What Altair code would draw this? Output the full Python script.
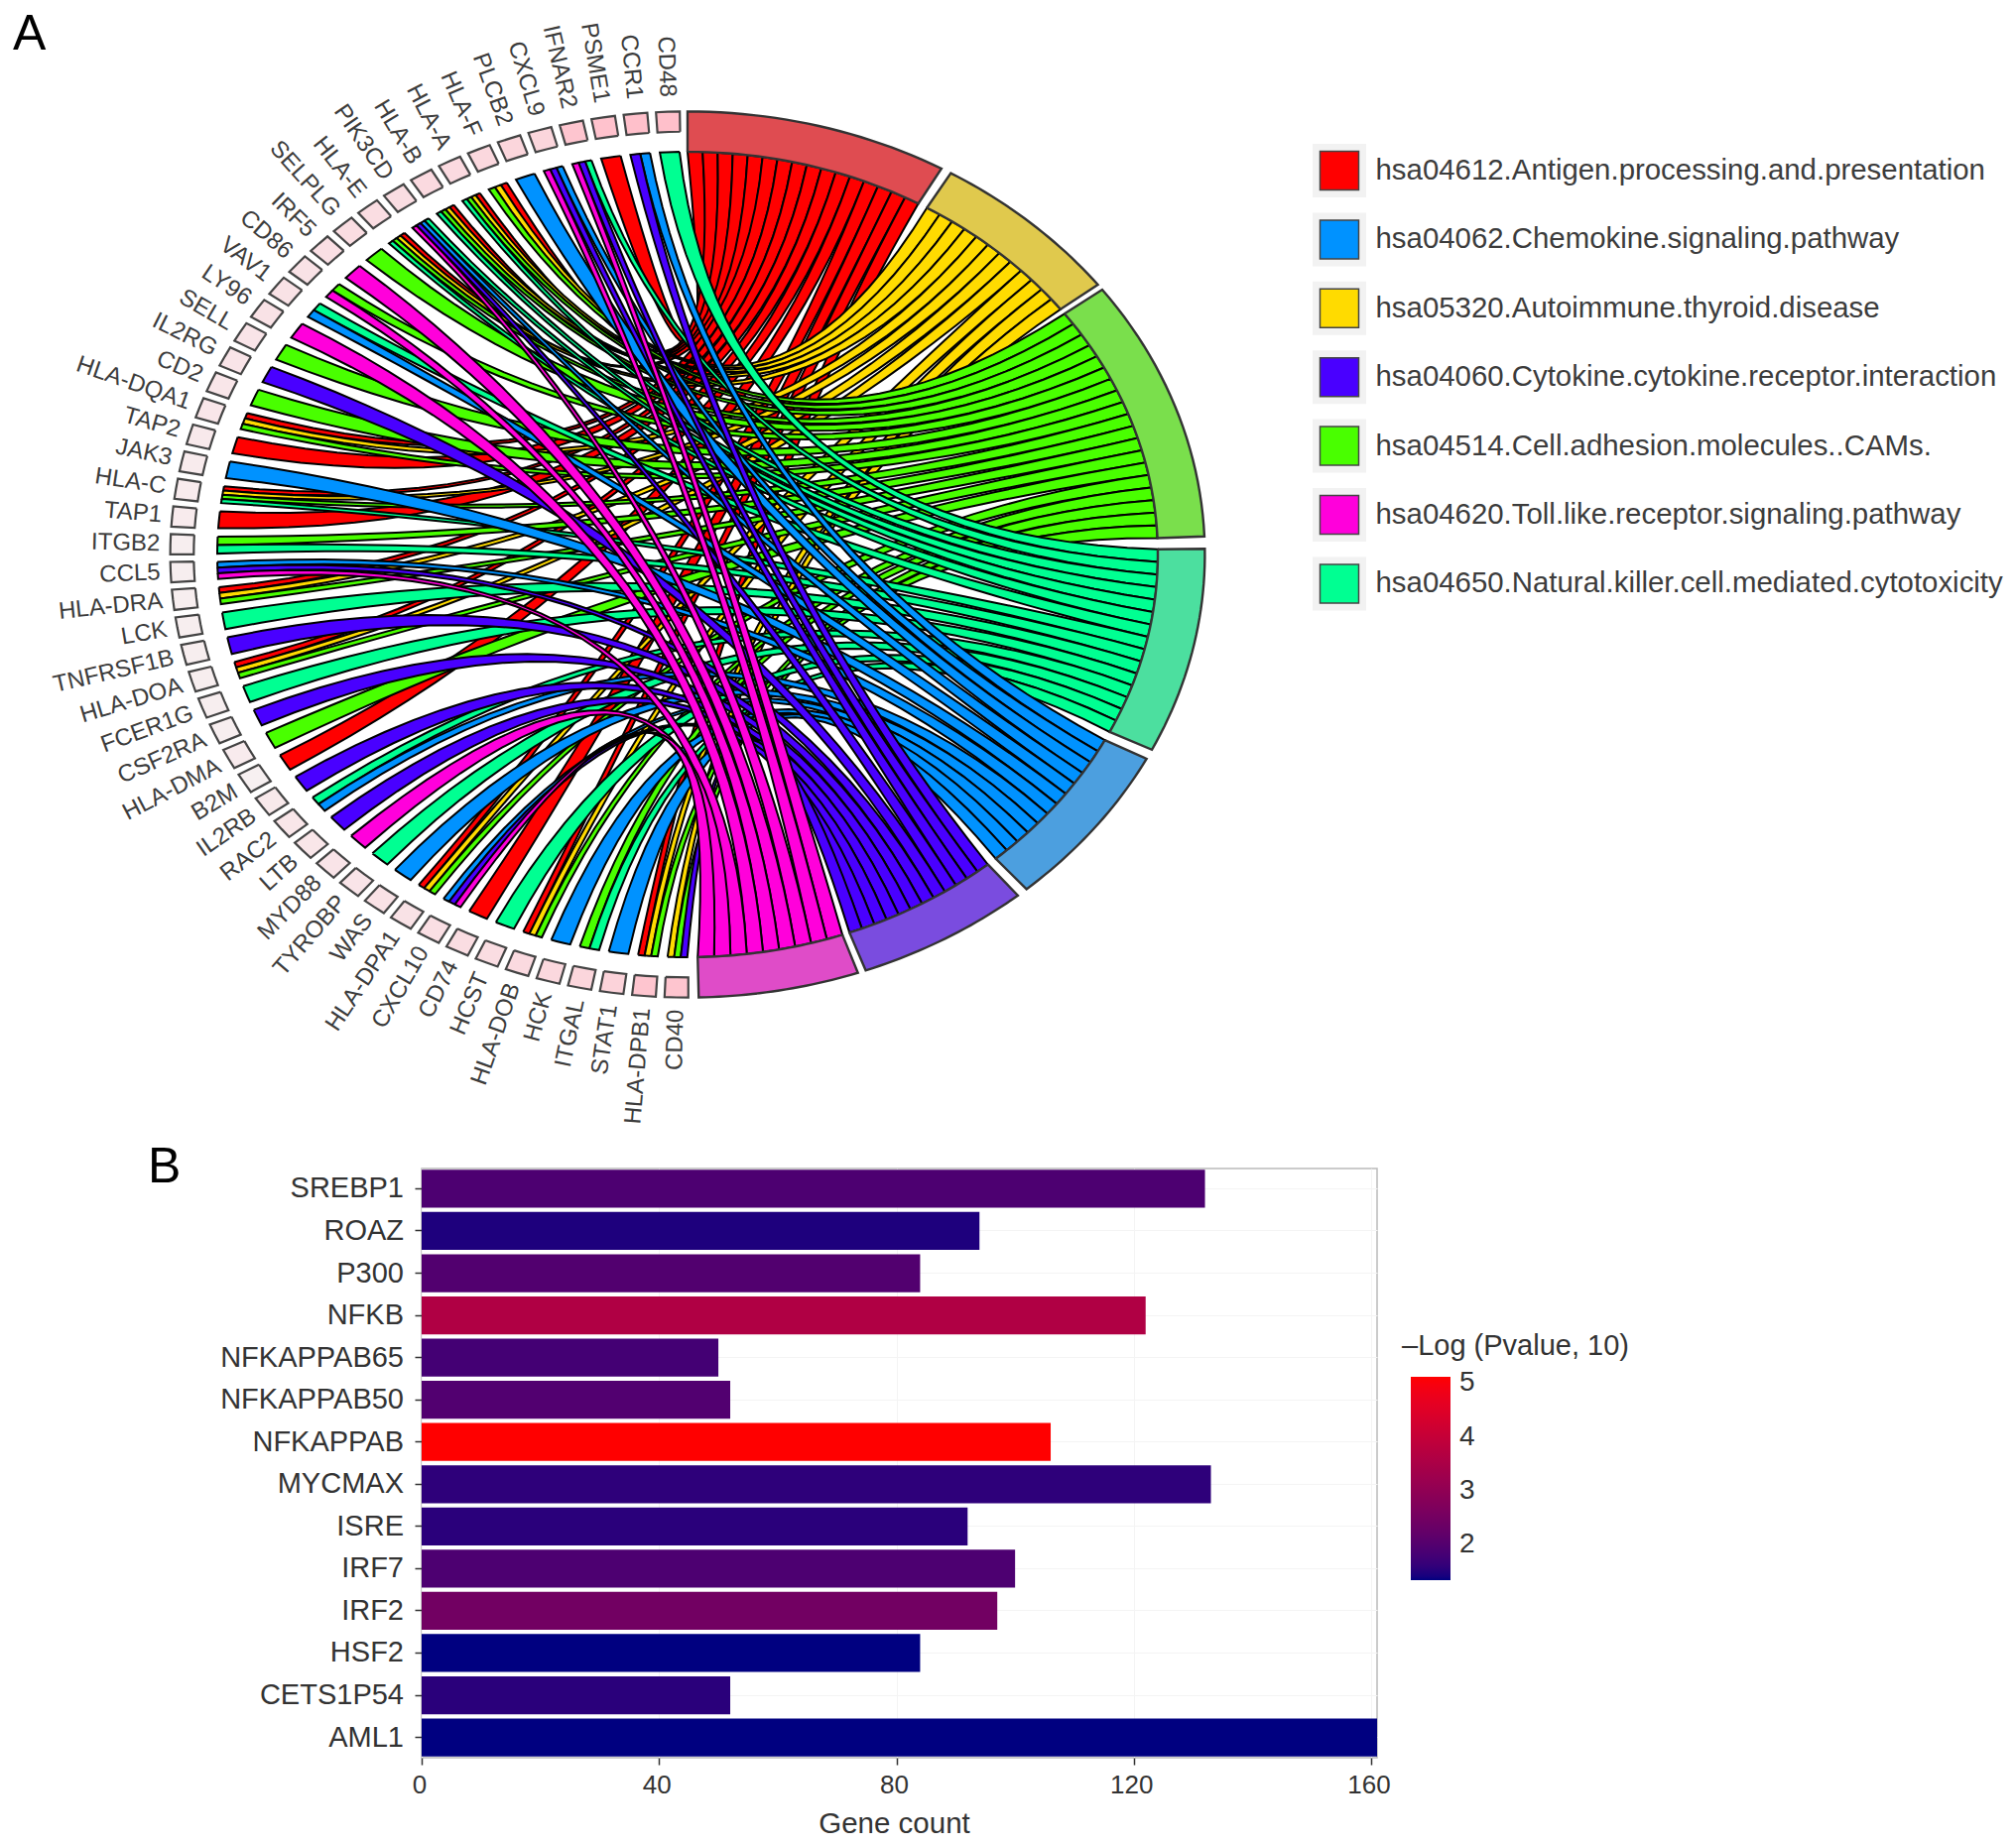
import math
import altair as alt
import pandas as pd

alt.data_transformers.disable_max_rows()

FONT = "Liberation Sans"

# ---- data ----
term_keys = ["R", "Y", "G", "T", "B", "P", "M"]
term_colors = ["#FF0000", "#FFDB00", "#49FF00", "#00FF92", "#0092FF", "#4900FF", "#FF00DB"]
sector_colors = ["#DF4C51", "#E0C94D", "#7ADF4C", "#4CDF9F", "#4C9FDF", "#7A4CDF", "#DF4CC8"]
sector_start = [0.000, 0.534, 0.930, 1.558, 2.050, 2.449, 2.806]
sector_end = [0.513, 0.916, 1.530, 2.027, 2.427, 2.790, 3.120]

genes = ["CD48", "CCR1", "PSME1", "IFNAR2", "CXCL9", "PLCB2", "HLA-F", "HLA-A", "HLA-B", "PIK3CD",
         "HLA-E", "SELPLG", "IRF5", "CD86", "VAV1", "LY96", "SELL", "IL2RG", "CD2", "HLA-DQA1",
         "TAP2", "JAK3", "HLA-C", "TAP1", "ITGB2", "CCL5", "HLA-DRA", "LCK", "TNFRSF1B", "HLA-DOA",
         "FCER1G", "CSF2RA", "HLA-DMA", "B2M", "IL2RB", "RAC2", "LTB", "MYD88", "TYROBP", "WAS",
         "HLA-DPA1", "CXCL10", "CD74", "HCST", "HLA-DOB", "HCK", "ITGAL", "STAT1", "HLA-DPB1", "CD40"]
gene_terms = ["T", "BP", "R", "TPM", "BPM", "B", "RYG", "RYGT", "RYGT", "TBPM",
              "RYGT", "G", "M", "GM", "TB", "M", "G", "P", "G", "RYG",
              "R", "B", "RYGT", "R", "GT", "BPM", "RYG", "T", "P", "RYG",
              "T", "P", "G", "R", "P", "TB", "P", "M", "T", "B",
              "RYG", "BPM", "R", "T", "RYG", "B", "GT", "B", "RYG", "YGP"]
gene_pink = [1.0, 1.0, 0.95, 0.9, 0.55, 0.55, 0.5, 0.45, 0.45, 0.4,
             0.4, 0.4, 0.35, 0.3, 0.3, 0.3, 0.25, 0.25, 0.2, 0.2,
             0.15, 0.1, 0.1, 0.1, 0.05, 0.05, 0.05, 0.05, 0.05, 0.05,
             0.05, 0.05, 0.1, 0.0, 0.15, 0.2, 0.2, 0.25, 0.25, 0.3,
             0.3, 0.35, 0.4, 0.4, 0.45, 0.5, 0.55, 0.6, 0.9, 0.9]

legend_labels = ["hsa04612.Antigen.processing.and.presentation",
                 "hsa04062.Chemokine.signaling.pathway",
                 "hsa05320.Autoimmune.thyroid.disease",
                 "hsa04060.Cytokine.cytokine.receptor.interaction",
                 "hsa04514.Cell.adhesion.molecules..CAMs.",
                 "hsa04620.Toll.like.receptor.signaling.pathway",
                 "hsa04650.Natural.killer.cell.mediated.cytotoxicity"]
legend_keys = ["R", "B", "Y", "P", "G", "M", "T"]

bar_names = ["SREBP1", "ROAZ", "P300", "NFKB", "NFKAPPAB65", "NFKAPPAB50", "NFKAPPAB",
             "MYCMAX", "ISRE", "IRF7", "IRF2", "HSF2", "CETS1P54", "AML1"]
bar_counts = [132, 94, 84, 122, 50, 52, 106, 133, 92, 100, 97, 84, 52, 161]
bar_logp = [1.90, 1.44, 1.97, 3.60, 1.78, 1.96, 5.12, 1.56, 1.52, 1.90, 2.47, 1.33, 1.52, 1.33]
legend_ticks = [2, 3, 4, 5]

# ---- chord layout (ellipse in image pixels) ----
CX, CY, RX, RY = 692.0, 558.0, 474.0, 406.0
CTRL = (730.0, 538.0)
GENE_FIRST, GENE_STEP, GENE_W, SQUARE_W = -0.038, 0.0629, 0.042, 0.046


def pt(theta, r=1.0):
    return CX + RX * r * math.sin(theta), CY - RY * r * math.cos(theta)


def arc(a, b, r=1.0, n=6):
    return [pt(a + (b - a) * i / n, r) for i in range(n + 1)]


def curve(p0, p1, n=28):
    out = []
    for i in range(n + 1):
        t = i / n
        u = 1 - t
        out.append((u * u * p0[0] + 2 * u * t * CTRL[0] + t * t * p1[0],
                    u * u * p0[1] + 2 * u * t * CTRL[1] + t * t * p1[1]))
    return out


slot_count = {k: sum(k in s for s in gene_terms) for k in term_keys}
slot_used = {k: 0 for k in term_keys}
ribbons = {k: [] for k in term_keys}
for i, terms in enumerate(gene_terms):
    theta = GENE_FIRST - GENE_STEP * i
    w = GENE_W / len(terms)
    for j, k in enumerate(terms):
        ti = term_keys.index(k)
        a0 = theta + GENE_W / 2 - j * w
        a1 = a0 - w
        dw = (sector_end[ti] - sector_start[ti]) / slot_count[k]
        b0 = sector_start[ti] + slot_used[k] * dw
        b1 = b0 + dw
        slot_used[k] += 1
        poly = arc(a0, a1, n=3) + curve(pt(a1), pt(b1))[1:] + arc(b1, b0, n=3)[1:] + curve(pt(b0), pt(a0))[1:]
        ribbons[k].append((term_colors[ti], poly))

rows = []
rid = 0
for k in term_keys:
    for color, poly in ribbons[k]:
        for s, (x, y) in enumerate(poly):
            rows.append({"id": rid, "s": s, "x": round(x, 2), "y": round(y, 2), "c": color})
        rid += 1
rib_df = pd.DataFrame(rows)

rows = []
for ti in range(7):
    a, b = sector_start[ti], sector_end[ti]
    poly = arc(a, b, 1.0, 24) + arc(b, a, 1.10, 24) + [pt(a, 1.0)]
    for s, (x, y) in enumerate(poly):
        rows.append({"id": ti, "s": s, "x": round(x, 2), "y": round(y, 2), "c": sector_colors[ti]})
sec_df = pd.DataFrame(rows)


def pink(v):
    lo, hi = (247, 240, 241), (255, 192, 203)
    return "#%02X%02X%02X" % tuple(round(l + (h - l) * v) for l, h in zip(lo, hi))


rows, lab = [], []
for i, g in enumerate(genes):
    th = GENE_FIRST - GENE_STEP * i
    a, b = th + SQUARE_W / 2, th - SQUARE_W / 2
    poly = arc(a, b, 1.05, 2) + arc(b, a, 1.10, 2) + [pt(a, 1.05)]
    for s, (x, y) in enumerate(poly):
        rows.append({"id": i, "s": s, "x": round(x, 2), "y": round(y, 2), "c": pink(gene_pink[i])})
    ry = 1.1335 + 0.0035 * math.cos(th)
    lab.append({"x": CX + RX * 1.122 * math.sin(th), "y": CY - RY * ry * math.cos(th),
                "t": g, "a": (90 + math.degrees(th)) % 360})
sq_df = pd.DataFrame(rows)
lab_df = pd.DataFrame(lab)

leg_df = pd.DataFrame({
    "x": [1349.0] * 7,
    "tx": [1385.5] * 7,
    "y": [171 + 69.4 * i for i in range(7)],
    "t": legend_labels,
    "c": [term_colors[term_keys.index(k)] for k in legend_keys],
})

# ---- panel A : drawn in image pixels, plot area lined up with panel B ----
W_B, H_B = 963, 594
H_A = 1142
X = alt.Scale(domain=[424, 424 + W_B], nice=False, zero=False)
Y = alt.Scale(domain=[8 + H_A, 8], nice=False, zero=False)
ax = alt.X("x:Q", scale=X, axis=None)
ay = alt.Y("y:Q", scale=Y, axis=None)


def polys(df, stroke, sw):
    return alt.Chart(df).mark_line(stroke=stroke, strokeWidth=sw, strokeJoin="miter").encode(
        x=ax, y=ay, detail="id:N", order="s:Q", fill=alt.Fill("c:N", scale=None))


anchor = alt.Chart(pd.DataFrame({"x": [8.0], "y": [8.0]})).mark_point(opacity=0, size=1).encode(x=ax, y=ay)
rib = polys(rib_df, "#000000", 2.0)
sec = polys(sec_df, "#333333", 2.4)
sq = polys(sq_df, "#444444", 2.2)
labels = alt.Chart(lab_df).mark_text(font=FONT, fontSize=24, align="right", baseline="middle", color="#3c3c3c").encode(
    x=ax, y=ay, text="t:N", angle=alt.Angle("a:Q", scale=None))
key_bg = alt.Chart(leg_df).mark_square(size=2916, color="#F2F2F2", opacity=1).encode(x=ax, y=ay)
key = alt.Chart(leg_df).mark_square(size=1521, stroke="#444444", strokeWidth=1.5, opacity=1).encode(
    x=ax, y=ay, fill=alt.Fill("c:N", scale=None))
key_text = alt.Chart(leg_df).mark_text(font=FONT, fontSize=29.4, align="left", baseline="middle", color="#3c3c3c").encode(
    x=alt.X("tx:Q", scale=X, axis=None), y=ay, text="t:N")
letter_a = alt.Chart(pd.DataFrame({"x": [12.0], "y": [49.0], "t": ["A"]})).mark_text(
    font=FONT, fontSize=50, align="left", baseline="alphabetic", color="#000000").encode(x=ax, y=ay, text="t:N")

panel_a = alt.layer(anchor, rib, sec, sq, labels, key_bg, key, key_text, letter_a).properties(width=W_B, height=H_A)

# ---- panel B ----
LEG_X, LEG_Y, LEG_LEN, LEG_THICK = 997, 209, 205, 40
DOM = [1.33, 5.12]
bar_df = pd.DataFrame({"name": bar_names, "count": bar_counts, "logp": bar_logp})
bars = alt.Chart(bar_df).mark_bar().encode(
    x=alt.X("count:Q", scale=alt.Scale(domain=[0, 161], nice=False),
            axis=alt.Axis(values=[0, 40, 80, 120, 160], title="Gene count", titleFont=FONT, titleFontSize=29.5,
                          titleFontWeight="normal", titleColor="#333333", titlePadding=12, titleX=476,
                          labelFont=FONT, labelFontSize=26, labelColor="#333333", tickColor="#333333",
                          tickSize=7, tickWidth=1.5, domain=False, gridColor="#F4F4F4", labelPadding=7,
                          labelFlush=False, labelOffset=-2.5)),
    y=alt.Y("name:N", sort=bar_names, scale=alt.Scale(paddingInner=0.1, paddingOuter=0.03),
            axis=alt.Axis(title=None, labelFont=FONT, labelFontSize=29, labelColor="#333333", labelLimit=400,
                          tickColor="#333333", tickSize=7, tickWidth=1.5, domain=False,
                          grid=True, gridColor="#F4F4F4", labelPadding=11.5)),
    color=alt.Color("logp:Q", scale=alt.Scale(domain=DOM, range=["#000080", "#FF0000"], interpolate="lab"),
                    legend=alt.Legend(orient="none", legendX=LEG_X, legendY=1170 + LEG_Y, title=None, values=legend_ticks,
                                      gradientLength=LEG_LEN, gradientThickness=LEG_THICK, labelFont=FONT, labelFontSize=28,
                                      labelColor="#333333", labelOffset=9, gradientStrokeWidth=0)),
)
leg_title = alt.Chart(pd.DataFrame({"t": ["\u2013Log (Pvalue, 10)"]})).mark_text(
    font=FONT, fontSize=29, align="left", baseline="middle", color="#333333"
).encode(x=alt.value(988), y=alt.value(179), text="t:N")
letter_b = alt.Chart(pd.DataFrame({"t": ["B"]})).mark_text(
    font=FONT, fontSize=50, align="left", baseline="alphabetic", color="#000000"
).encode(x=alt.value(148 - 424), y=alt.value(1192 - 1178), text="t:N")

ticks = []
for v in legend_ticks:
    py = LEG_Y + 4 + (DOM[1] - v) / (DOM[1] - DOM[0]) * LEG_LEN
    for x0 in (LEG_X, LEG_X + LEG_THICK - 8):
        ticks.append(alt.Chart(pd.DataFrame({"t": [v]})).mark_rule(color="#FFFFFF", strokeWidth=1.2, opacity=0.7).encode(
            x=alt.value(x0), x2=alt.value(x0 + 8), y=alt.value(py)))

panel_b = alt.layer(bars, leg_title, letter_b, *ticks).properties(
    width=W_B, height=H_B, view=alt.ViewConfig(stroke="#BBBBBB", strokeWidth=1.5))

chart = alt.vconcat(panel_a, panel_b, spacing=0).properties(padding=0, background="white").configure_view(stroke=None)

chart.save("out.html", embed_options={"renderer": "svg", "actions": False})
